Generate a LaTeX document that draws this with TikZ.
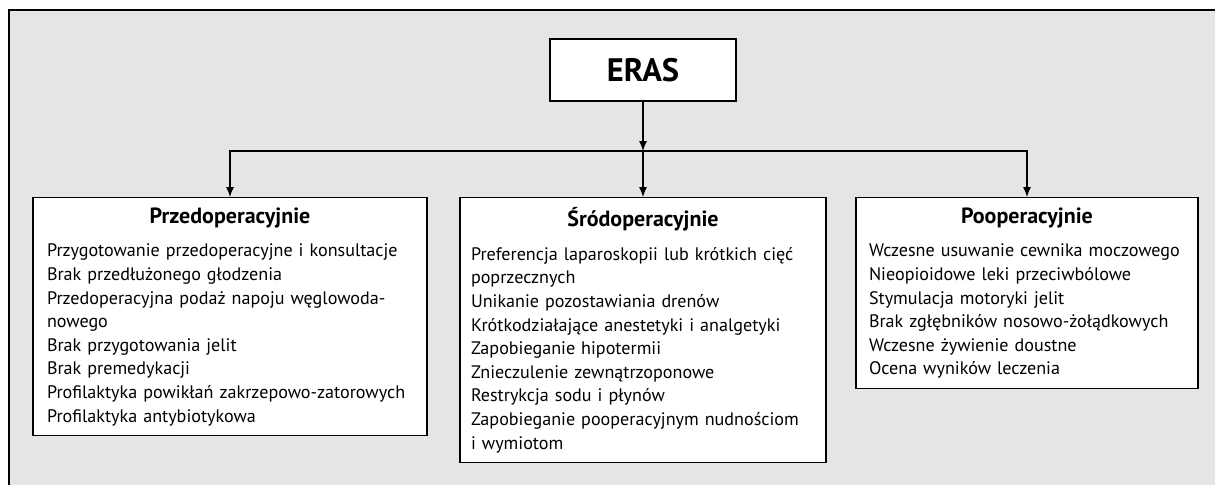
\documentclass[tikz,border=0pt]{standalone}
\usepackage{fontspec}
\setmainfont{PT Sans}
\usetikzlibrary{arrows.meta}
\definecolor{panelgray}{HTML}{E4E5E7}
\newcommand{\listfont}{\fontsize{18.1}{23.6}\selectfont}
\newcommand{\headfont}{\fontsize{22}{23.6}\selectfont\bfseries}

\begin{document}
\begin{tikzpicture}[x=1pt, y=-1pt,
  listbox/.style={draw, line width=1.2pt, fill=white, anchor=north, inner ysep=10pt, font=\listfont},
  conn/.style={-{Latex[length=10pt,width=8pt]}, line width=1.1pt}]
  \useasboundingbox (0,0) rectangle (1215,485);
  \fill[panelgray] (9,10) rectangle (1215,485);
  \draw[line width=1.3pt] (9,485) -- (9,10) -- (1215,10);

  % root
  \node[draw, line width=1.2pt, fill=white, minimum width=186pt, minimum height=62pt,
        font=\fontsize{32.5}{32.5}\selectfont\bfseries] (eras) at (643,70) {ERAS};

  % three phases
  \node[listbox, inner xsep=14pt, text width=366pt] (pre) at (230,197) {%
    \vspace*{6pt}{\centering\headfont Przedoperacyjnie\par}\vspace{4pt}\raggedright
    Przygotowanie przedoperacyjne i konsultacje\\
    Brak przedłużonego głodzenia\\
    Przedoperacyjna podaż napoju węglowoda-\\
    nowego\\
    Brak przygotowania jelit\\
    Brak premedykacji\\
    Profilaktyka powikłań zakrzepowo-zatorowych\\
    Profilaktyka antybiotykowa};
  \node[listbox, inner xsep=11pt, text width=344pt] (intra) at (643,197) {%
    \vspace*{6pt}{\centering\headfont Śródoperacyjnie\par}\vspace{4pt}\raggedright
    Preferencja laparoskopii lub krótkich cięć\\
    poprzecznych\\
    Unikanie pozostawiania drenów\\
    Krótkodziałające anestetyki i analgetyki\\
    Zapobieganie hipotermii\\
    Znieczulenie zewnątrzoponowe\\
    Restrykcja sodu i płynów\\
    Zapobieganie pooperacyjnym nudnościom\\
    i wymiotom};
  \node[listbox, inner xsep=13pt, text width=316pt] (post) at (1027,197) {%
    \vspace*{6pt}{\centering\headfont Pooperacyjnie\par}\vspace{4pt}\raggedright
    Wczesne usuwanie cewnika moczowego\\
    Nieopioidowe leki przeciwbólowe\\
    Stymulacja motoryki jelit\\
    Brak zgłębników nosowo-żołądkowych\\
    Wczesne żywienie doustne\\
    Ocena wyników leczenia\par\vspace{22pt}};

  % connectors
  \coordinate (split) at (643,151);
  \draw[conn] (eras) -- (split);
  \draw[conn] (split) -- (intra);
  \draw[conn] (split) -| (pre);
  \draw[conn] (split) -| (post);
\end{tikzpicture}
\end{document}
